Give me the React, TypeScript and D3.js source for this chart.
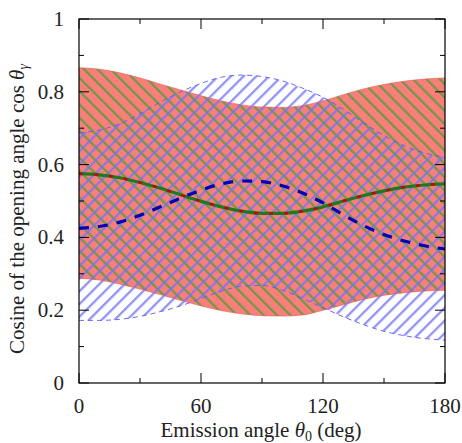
import * as d3 from 'd3';

// emission angle theta0 (deg)
const angles = [0, 10, 20, 30, 40, 50, 60, 70, 80, 90, 100, 110, 120, 130, 140, 150, 160, 170, 180];

// red band (salmon fill, green hatch)
const redUpper = [0.866, 0.862, 0.852, 0.838, 0.821, 0.805, 0.789, 0.775, 0.764, 0.758, 0.757, 0.762, 0.775, 0.792, 0.808, 0.82, 0.829, 0.835, 0.838];
const redLower = [0.288, 0.283, 0.272, 0.258, 0.243, 0.227, 0.212, 0.199, 0.19, 0.185, 0.184, 0.187, 0.2, 0.215, 0.23, 0.241, 0.248, 0.253, 0.255];

// blue band (blue hatch)
const blueUpper = [0.687, 0.695, 0.712, 0.74, 0.772, 0.8, 0.823, 0.84, 0.846, 0.842, 0.83, 0.81, 0.785, 0.752, 0.715, 0.68, 0.652, 0.632, 0.62];
const blueLower = [0.172, 0.172, 0.175, 0.183, 0.196, 0.212, 0.232, 0.252, 0.266, 0.268, 0.255, 0.232, 0.207, 0.182, 0.16, 0.142, 0.13, 0.122, 0.118];

// central curves
const greenMean = [0.575, 0.572, 0.564, 0.551, 0.535, 0.517, 0.499, 0.484, 0.472, 0.466, 0.466, 0.472, 0.484, 0.5, 0.515, 0.528, 0.538, 0.544, 0.547];
const blueMean = [0.425, 0.43, 0.442, 0.461, 0.484, 0.508, 0.53, 0.547, 0.555, 0.553, 0.542, 0.522, 0.495, 0.462, 0.432, 0.408, 0.39, 0.377, 0.368];

const xMajor = [0, 60, 120, 180];
const xMinor = [30, 90, 150];
const yMajor = [0, 0.2, 0.4, 0.6, 0.8, 1];
const yMinor = [0.1, 0.3, 0.5, 0.7, 0.9];

const W = 462;
const H = 443;
const left = 79, right = 445, top = 19, bottom = 383;
const font = '"Liberation Serif", "DejaVu Serif", serif';

export default function App() {
  const x = d3.scaleLinear().domain([0, 180]).range([left, right]);
  const y = d3.scaleLinear().domain([0, 1]).range([bottom, top]);

  const band = (lo: number[], hi: number[]) =>
    d3.area<number>()
      .x((d) => x(d))
      .y0((_, i) => y(lo[i]))
      .y1((_, i) => y(hi[i]))
      .curve(d3.curveMonotoneX)(angles) || '';

  const line = (vals: number[]) =>
    d3.line<number>()
      .x((d) => x(d))
      .y((_, i) => y(vals[i]))
      .curve(d3.curveMonotoneX)(angles) || '';

  return (
    <svg width={W} height={H} style={{ position: 'absolute', left: 0, top: 0 }} fontFamily={font}>
      <defs>
        <pattern id="greenHatch" patternUnits="userSpaceOnUse" width={9.4} height={9.4} patternTransform="rotate(-45)">
          <rect x={0} y={0} width={2.3} height={9.4} fill="#5f9a3e" opacity={0.88} />
        </pattern>
        <pattern id="blueHatch" patternUnits="userSpaceOnUse" width={9} height={9} patternTransform="rotate(45)">
          <rect x={0} y={0} width={2.3} height={9} fill="#7373f8" opacity={0.78} />
        </pattern>
        <clipPath id="plotClip">
          <rect x={left} y={top} width={right - left} height={bottom - top} />
        </clipPath>
      </defs>

      <g clipPath="url(#plotClip)">
        <path d={band(redLower, redUpper)} fill="#fa7f7b" />
        <path d={band(redLower, redUpper)} fill="url(#greenHatch)" />
        <path d={band(blueLower, blueUpper)} fill="url(#blueHatch)" />
        <path d={line(redUpper)} fill="none" stroke="#e8605a" strokeWidth={0.7} />
        <path d={line(redLower)} fill="none" stroke="#e8605a" strokeWidth={0.7} />
        <path d={line(blueUpper)} fill="none" stroke="#5a5aff" strokeWidth={0.9} strokeDasharray="5,4" />
        <path d={line(blueLower)} fill="none" stroke="#5a5aff" strokeWidth={0.9} strokeDasharray="5,4" />
        <path d={line(greenMean)} fill="none" stroke="#1f7a1f" strokeWidth={3.2} />
        <path d={line(greenMean)} fill="none" stroke="#d00000" strokeWidth={2.4} strokeDasharray="4,11" />
        <path d={line(blueMean)} fill="none" stroke="#0000b4" strokeWidth={3.2} strokeDasharray="10,9" />
      </g>

      <rect x={left} y={top} width={right - left} height={bottom - top} fill="none" stroke="#000" strokeWidth={1.2} />

      {xMajor.map((t) => (
        <g key={'xM' + t}>
          <line x1={x(t)} x2={x(t)} y1={bottom} y2={bottom - 10} stroke="#000" />
          <line x1={x(t)} x2={x(t)} y1={top} y2={top + 10} stroke="#000" />
          <text x={x(t)} y={413} fontSize={21} textAnchor="middle" fill="#222">{t}</text>
        </g>
      ))}
      {xMinor.map((t) => (
        <g key={'xm' + t}>
          <line x1={x(t)} x2={x(t)} y1={bottom} y2={bottom - 5} stroke="#000" />
          <line x1={x(t)} x2={x(t)} y1={top} y2={top + 5} stroke="#000" />
        </g>
      ))}
      {yMajor.map((t) => (
        <g key={'yM' + t}>
          <line x1={left} x2={left + 10} y1={y(t)} y2={y(t)} stroke="#000" />
          <line x1={right} x2={right - 10} y1={y(t)} y2={y(t)} stroke="#000" />
          <text x={64} y={y(t) + 7} fontSize={21} textAnchor="end" fill="#222">{t}</text>
        </g>
      ))}
      {yMinor.map((t) => (
        <g key={'ym' + t}>
          <line x1={left} x2={left + 5} y1={y(t)} y2={y(t)} stroke="#000" />
          <line x1={right} x2={right - 5} y1={y(t)} y2={y(t)} stroke="#000" />
        </g>
      ))}

      <text x={261} y={437} fontSize={21} textAnchor="middle" fill="#222">
        Emission angle <tspan fontStyle="italic">θ</tspan>
        <tspan fontSize={14} dy={4}>0</tspan>
        <tspan dy={-4}> (deg)</tspan>
      </text>
      <text transform="translate(24,209) rotate(-90)" fontSize={21} textAnchor="middle" fill="#222">
        Cosine of the opening angle cos <tspan fontStyle="italic">θ</tspan>
        <tspan fontSize={14} fontStyle="italic" dy={4}>γ</tspan>
      </text>
    </svg>
  );
}
